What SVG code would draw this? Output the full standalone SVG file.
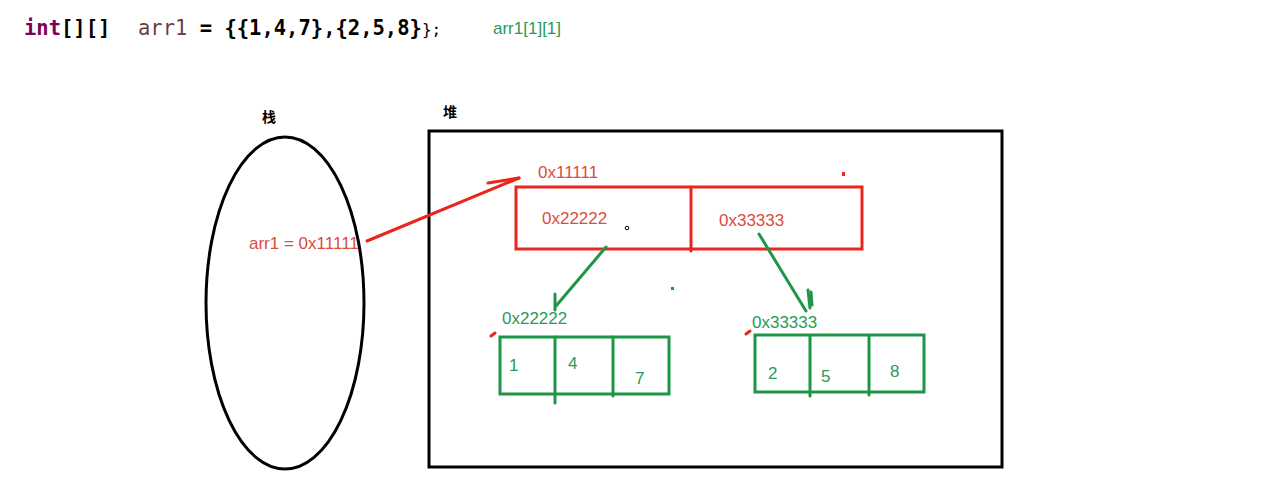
<svg xmlns="http://www.w3.org/2000/svg" width="1268" height="499" viewBox="0 0 1268 499">
<style>
.code{font-family:"DejaVu Sans Mono","Liberation Mono",monospace;font-size:20.5px;font-weight:bold}
.hand{font-family:"Liberation Sans","DejaVu Sans",sans-serif;font-size:17px}
.red{fill:#d94c40}
.grn{fill:#2a9a58}
.cjk{font-family:"Noto Sans CJK SC",sans-serif;font-size:14px;fill:#000;font-weight:bold}
.rbox{fill:none;stroke:#e8261e;stroke-width:3}
.gbox{fill:none;stroke:#1f9548;stroke-width:3}
.rl{stroke:#e8261e;stroke-width:3;fill:none;stroke-linecap:round}
.gl{stroke:#1f9548;stroke-width:3;fill:none;stroke-linecap:round}
</style>
<rect width="1268" height="499" fill="#fff"/>
<text x="24" y="35" class="code"><tspan fill="#7f0055">int</tspan><tspan fill="#000">[][]</tspan><tspan x="138" fill="#6a3e3e" font-weight="normal">arr1</tspan><tspan fill="#000"> = {{1,4,7},{2,5,8}</tspan><tspan fill="#000" font-weight="normal" font-size="16">};</tspan></text>
<text x="493" y="34" class="hand grn" font-size="14.5">arr1[1][1]</text>
<g id="stack">
<text x="262" y="122" class="cjk">栈</text>
<ellipse cx="285" cy="303" rx="79" ry="166" fill="none" stroke="#000" stroke-width="3"/>
<text x="249" y="249" class="hand red">arr1 = 0x11111</text>
</g>
<g id="heap">
<text x="443" y="117" class="cjk">堆</text>
<rect x="429" y="131" width="573" height="336" fill="none" stroke="#000" stroke-width="3"/>
</g>
<g id="outer-array">
<text x="538" y="178" class="hand red">0x11111</text>
<rect x="516" y="187" width="346" height="62" class="rbox"/>
<line x1="691" y1="187" x2="691" y2="251" class="rl"/>
<text x="542" y="224" class="hand red">0x22222</text>
<text x="719" y="226" class="hand red">0x33333</text>
</g>
<g id="array1">
<text x="502" y="324" class="hand grn">0x22222</text>
<rect x="500" y="337" width="169" height="57" class="gbox"/>
<line x1="555" y1="337" x2="555" y2="403" class="gl"/>
<line x1="613" y1="337" x2="613" y2="396" class="gl"/>
<text x="509" y="371" class="hand grn" font-size="16">1</text>
<text x="568" y="369" class="hand grn" font-size="16">4</text>
<text x="635" y="384" class="hand grn" font-size="16">7</text>
</g>
<g id="array2">
<text x="752" y="328" class="hand grn">0x33333</text>
<rect x="755" y="335" width="169" height="57" class="gbox"/>
<line x1="810" y1="335" x2="810" y2="396" class="gl"/>
<line x1="869" y1="335" x2="869" y2="395" class="gl"/>
<text x="768" y="379" class="hand grn" font-size="16">2</text>
<text x="821" y="382" class="hand grn" font-size="16">5</text>
<text x="890" y="377" class="hand grn" font-size="16">8</text>
</g>
<g id="connectors">
<path d="M367 241 L519 178" class="rl"/>
<path d="M488 183 L519 178" class="rl"/>
<path d="M606 247 L556 306" class="gl"/>
<path d="M555 294 L555 310" class="gl"/>
<path d="M759 234 L806 311" class="gl"/>
<path d="M808 290 L810 308" class="gl"/>
<path d="M811 292 L812 305" class="gl" stroke-width="2"/>
</g>
<g id="marks">
<path d="M491 336 L495 333" class="rl" stroke-width="2"/>
<path d="M746 334 L750 331" class="rl" stroke-width="2"/>
<rect x="842" y="172" width="3" height="4" fill="#e8261e"/>
<rect x="671" y="287" width="3" height="3" fill="#1f9548"/>
<circle cx="627" cy="228" r="1.8" fill="none" stroke="#000" stroke-width="1"/>
</g>
</svg>
